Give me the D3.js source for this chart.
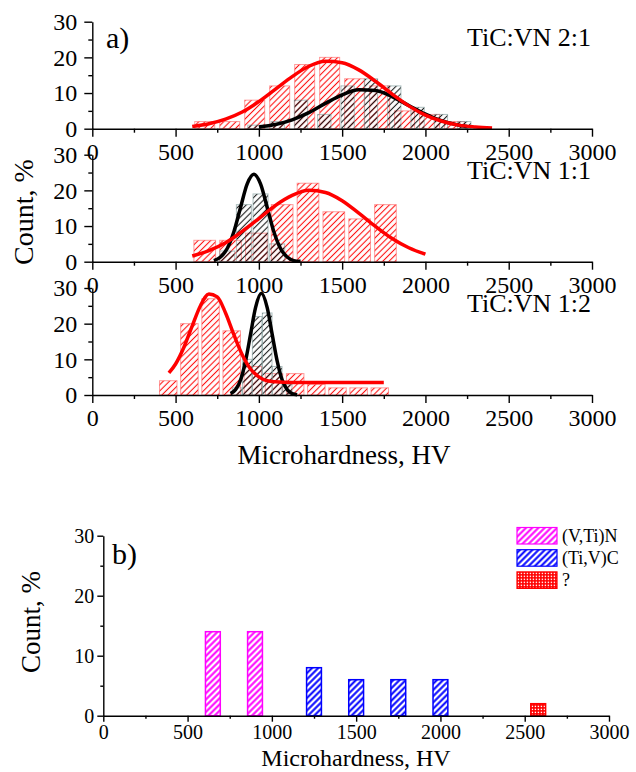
<!DOCTYPE html>
<html>
<head>
<meta charset="utf-8">
<title>Microhardness histograms</title>
<script src="https://cdn.jsdelivr.net/npm/d3@7"></script>
<style>
body { margin: 0; background: #fff; }
svg text { font-family: "Liberation Serif", "Times New Roman", serif; fill: #000; }
</style>
</head>
<body>
<svg id="fig" width="636" height="772"></svg>
<script>
// ---- values ----
const xTicks = [0, 500, 1000, 1500, 2000, 2500, 3000];
const xMinor = [250, 750, 1250, 1750, 2250, 2750];
const yTicks = [0, 10, 20, 30];
const yMinor = [5, 15, 25];

// a) TiC:VN 2:1
const hv21Red = [675, 825, 975, 1125, 1275, 1425, 1575, 1725, 1875, 2025, 2175];
const cnt21Red = [2, 2, 8, 12, 18, 20, 14, 12, 5, 4, 2];
const hv21Black = [973, 1113, 1253, 1393, 1533, 1673, 1813, 1953, 2093, 2233];
const cnt21Black = [1, 2, 8, 4, 12, 14, 12, 6, 4, 2];
const fit21RedX = [600, 700, 800, 900, 1000, 1100, 1200, 1300, 1400, 1500, 1600, 1700, 1800, 1900, 2000, 2100, 2200, 2300, 2400];
const fit21RedY = [0.6, 1.4, 2.7, 4.7, 7.6, 11.1, 14.6, 17.5, 18.9, 18.5, 16.5, 13.3, 9.7, 6.4, 3.8, 2.1, 1.0, 0.5, 0.2];
const fit21BlackX = [1000, 1100, 1200, 1300, 1400, 1500, 1600, 1700, 1800, 1900, 2000, 2100, 2200, 2250];
const fit21BlackY = [0.5, 1.2, 2.5, 4.5, 7.1, 9.5, 10.9, 10.7, 9.0, 6.5, 4.1, 2.2, 1.0, 0.6];

// a) TiC:VN 1:1
const hv11Red = [675, 830, 985, 1140, 1295, 1450, 1605, 1760];
const cnt11Red = [6, 6, 8, 16, 22, 14, 12, 16];
const hv11Black = [810, 910, 1010, 1110];
const cnt11Black = [3, 16, 19, 5];
const fit11RedX = [600, 700, 800, 900, 1000, 1100, 1200, 1300, 1400, 1500, 1600, 1700, 1800, 1900, 2000];
const fit11RedY = [1.6, 3.1, 5.3, 8.5, 12.1, 15.8, 18.6, 20.0, 19.4, 17.1, 13.6, 9.9, 6.5, 3.9, 2.1];
const fit11BlackX = [730, 770, 810, 850, 890, 930, 970, 1010, 1050, 1090, 1130, 1170, 1210, 1250];
const fit11BlackY = [0.3, 1.3, 3.7, 8.4, 15.2, 21.8, 24.5, 21.8, 15.2, 8.4, 3.7, 1.3, 0.3, 0.1];

// a) TiC:VN 1:2
const hv12Red = [456, 583, 710, 837, 964, 1091, 1218, 1345, 1472, 1599, 1726];
const cnt12Red = [4, 20, 27, 18, 8, 6, 6, 3, 2, 2, 2];
const hv12Black = [870, 930, 990, 1050, 1110, 1170];
const cnt12Black = [2, 10, 22, 23, 8, 3];
const fit12RedX = [460, 500, 550, 600, 650, 700, 750, 800, 850, 900, 950, 1000, 1050, 1100, 1200, 1300, 1400, 1500, 1600, 1750];
const fit12RedY = [6.2, 8.7, 13.4, 19.4, 25.1, 28.3, 27.5, 23.0, 16.9, 11.3, 7.3, 5.1, 4.0, 3.7, 3.5, 3.5, 3.5, 3.5, 3.5, 3.5];
const fit12BlackX = [830, 860, 890, 920, 950, 980, 1015, 1050, 1080, 1110, 1140, 1170, 1200, 1230];
const fit12BlackY = [0.4, 1.5, 4.2, 9.5, 17.0, 24.5, 28.5, 24.5, 17.0, 9.5, 4.2, 1.5, 0.4, 0.1];

// b) phases
const phaseNames = ["(V,Ti)N", "(Ti,V)C", "?"];
const phaseHV = [650, 900, 1250, 1500, 1750, 2000, 2580];
const phaseCount = [14, 14, 8, 6, 6, 6, 2];
const phaseOf = [0, 0, 1, 1, 1, 1, 2];

// ---- drawing ----
const svg = d3.select("#fig");
const defs = svg.append("defs");

function hatch(id, color, step, width, dash) {
  const p = defs.append("pattern")
    .attr("id", id)
    .attr("patternUnits", "userSpaceOnUse")
    .attr("width", step).attr("height", step)
    .attr("patternTransform", "rotate(45)");
  const l = p.append("line")
    .attr("x1", step / 2).attr("y1", -1)
    .attr("x2", step / 2).attr("y2", step + 1)
    .attr("stroke", color).attr("stroke-width", width);
  if (dash) l.attr("stroke-dasharray", dash);
}
hatch("hRed", "#ff1010", 4.4, 1.1);
hatch("hBlack", "#1a1a1a", 4.4, 1.1);
hatch("hMag", "#ff00ff", 4.4, 2);
hatch("hBlue", "#0000ff", 4.4, 2);
// checker for the "?" phase
const chk = defs.append("pattern").attr("id", "hChk")
  .attr("patternUnits", "userSpaceOnUse").attr("width", 3).attr("height", 3);
chk.append("rect").attr("width", 3).attr("height", 3).attr("fill", "#ff0000");
chk.append("rect").attr("x", 0.7).attr("y", 0.7).attr("width", 1.4).attr("height", 1.4).attr("fill", "#fff");

const xA = d3.scaleLinear().domain([0, 3000]).range([92.3, 592]);

const panels = [
  { label: "TiC:VN 2:1", bottom: 128.7, redX: hv21Red, redY: cnt21Red, redW: 120, blackX: hv21Black, blackY: cnt21Black, blackW: 80,
    fitR: d3.zip(fit21RedX, fit21RedY), fitB: d3.zip(fit21BlackX, fit21BlackY) },
  { label: "TiC:VN 1:1", bottom: 261.7, redX: hv11Red, redY: cnt11Red, redW: 130, blackX: hv11Black, blackY: cnt11Black, blackW: 90,
    fitR: d3.zip(fit11RedX, fit11RedY), fitB: d3.zip(fit11BlackX, fit11BlackY) },
  { label: "TiC:VN 1:2", bottom: 395, redX: hv12Red, redY: cnt12Red, redW: 105, blackX: hv12Black, blackY: cnt12Black, blackW: 58,
    fitR: d3.zip(fit12RedX, fit12RedY), fitB: d3.zip(fit12BlackX, fit12BlackY) }
];

function drawAxes(g, x, y, o) {
  const xa = g.append("g").attr("transform", `translate(0,${y(0)})`)
    .call(d3.axisBottom(x).tickValues(xTicks).tickSize(o.tick).tickSizeOuter(0)
      .tickPadding(o.xPad).tickFormat(d => d));
  g.append("g").attr("transform", `translate(0,${y(0)})`)
    .call(d3.axisBottom(x).tickValues(xMinor).tickSize(o.tick / 2).tickFormat(""))
    .call(s => s.select(".domain").remove());
  const ya = g.append("g").attr("transform", `translate(${x(0)},0)`)
    .call(d3.axisLeft(y).tickValues(yTicks).tickSize(o.tick).tickSizeOuter(0)
      .tickPadding(o.yPad).tickFormat(d => d));
  g.append("g").attr("transform", `translate(${x(0)},0)`)
    .call(d3.axisLeft(y).tickValues(yMinor).tickSize(o.tick / 2).tickFormat(""))
    .call(s => s.select(".domain").remove());
  g.selectAll(".tick line, .domain").attr("stroke", "#000").attr("stroke-width", 1.4);
  [xa, ya].forEach(a => a.attr("font-family", null).attr("font-size", null)
    .selectAll("text").style("font-size", o.fs + "px"));
}

function bars(g, x, y, xs, ys, w, fill, stroke) {
  g.append("g").selectAll("rect")
    .data(d3.zip(xs, ys))
    .join("rect")
    .attr("x", d => x(d[0] - w / 2))
    .attr("width", d => x(d[0] + w / 2) - x(d[0] - w / 2))
    .attr("y", d => y(d[1]))
    .attr("height", d => y(0) - y(d[1]))
    .attr("fill", fill)
    .attr("stroke", stroke)
    .attr("stroke-width", 1);
}

panels.forEach((p, i) => {
  const g = svg.append("g");
  const y = d3.scaleLinear().domain([0, 30]).range([p.bottom, p.bottom - 107]);
  bars(g, xA, y, p.redX, p.redY, p.redW, "url(#hRed)", "rgba(255,90,90,0.6)");
  bars(g, xA, y, p.blackX, p.blackY, p.blackW, "url(#hBlack)", "rgba(120,150,150,0.6)");
  const line = d3.line().x(d => xA(d[0])).y(d => y(d[1])).curve(d3.curveMonotoneX);
  g.append("path").attr("d", line(p.fitB)).attr("fill", "none").attr("stroke", "#000").attr("stroke-width", 3.5);
  g.append("path").attr("d", line(p.fitR)).attr("fill", "none").attr("stroke", "#ff0000").attr("stroke-width", 3.5);
  drawAxes(g, xA, y, { tick: 8, xPad: 6, yPad: 7, fs: 24 });
  g.append("text").attr("x", 591).attr("y", p.bottom - 83).attr("text-anchor", "end")
    .style("font-size", "26px").text(p.label);
});

svg.append("text").attr("x", 106).attr("y", 48).style("font-size", "30px").text("a)");
svg.append("text").attr("transform", "translate(33,212) rotate(-90)").attr("text-anchor", "middle")
  .style("font-size", "28px").text("Count, %");
svg.append("text").attr("x", 344).attr("y", 464).attr("text-anchor", "middle")
  .style("font-size", "27px").text("Microhardness, HV");

// ---- panel b ----
const xB = d3.scaleLinear().domain([0, 3000]).range([103.3, 609]);
const yB = d3.scaleLinear().domain([0, 30]).range([715.7, 535.7]);
const phaseFill = ["url(#hMag)", "url(#hBlue)", "url(#hChk)"];
const phaseLine = ["#ff00ff", "#0000ff", "#ff0000"];
const gb = svg.append("g");
const bw = 88;
gb.append("g").selectAll("rect")
  .data(phaseHV.map((h, i) => ({ h, c: phaseCount[i], k: phaseOf[i] })))
  .join("rect")
  .attr("x", d => xB(d.h - bw / 2))
  .attr("width", d => xB(d.h + bw / 2) - xB(d.h - bw / 2))
  .attr("y", d => yB(d.c))
  .attr("height", d => yB(0) - yB(d.c))
  .attr("fill", d => phaseFill[d.k])
  .attr("stroke", d => phaseLine[d.k])
  .attr("stroke-width", 1.5);
drawAxes(gb, xB, yB, { tick: 6, xPad: 3, yPad: 3, fs: 20 });

const leg = gb.append("g").selectAll("g").data(phaseNames).join("g")
  .attr("transform", (d, i) => `translate(517,${527.5 + i * 22.2})`);
leg.append("rect").attr("width", 40).attr("height", 16.5)
  .attr("fill", (d, i) => phaseFill[i]).attr("stroke", (d, i) => phaseLine[i]).attr("stroke-width", 1.2);
leg.append("text").attr("x", 45).attr("y", 14).style("font-size", "18px").text(d => d);

svg.append("text").attr("x", 112).attr("y", 564).style("font-size", "30px").text("b)");
svg.append("text").attr("transform", "translate(40,622) rotate(-90)").attr("text-anchor", "middle")
  .style("font-size", "27px").text("Count, %");
svg.append("text").attr("x", 356).attr("y", 766).attr("text-anchor", "middle")
  .style("font-size", "24px").text("Microhardness, HV");
</script>
</body>
</html>
